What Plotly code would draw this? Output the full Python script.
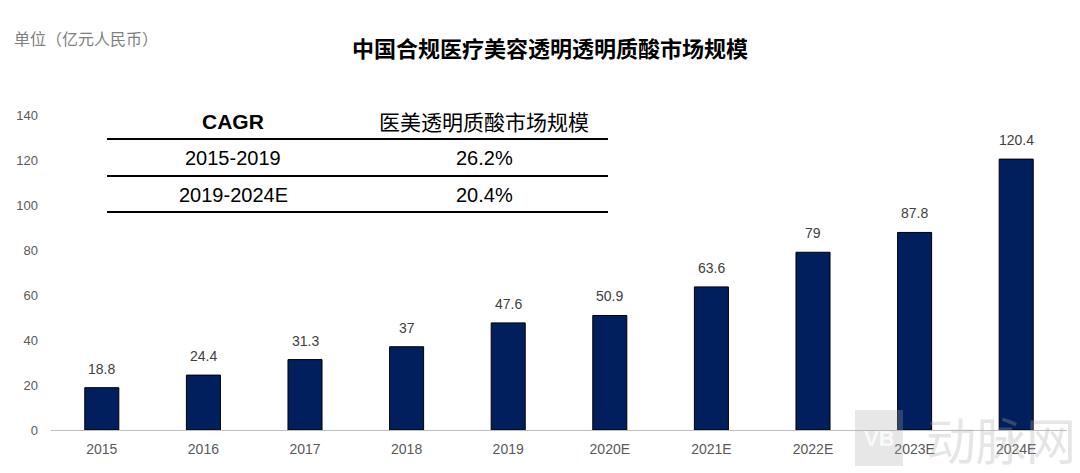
import plotly.graph_objects as go

years = ["2015", "2016", "2017", "2018", "2019", "2020E", "2021E", "2022E", "2023E", "2024E"]
values = [18.8, 24.4, 31.3, 37, 47.6, 50.9, 63.6, 79, 87.8, 120.4]
value_labels = ["18.8", "24.4", "31.3", "37", "47.6", "50.9", "63.6", "79", "87.8", "120.4"]
y_ticks = [0, 20, 40, 60, 80, 100, 120, 140]

table_header = ["CAGR", "医美透明质酸市场规模"]
table_periods = ["2015-2019", "2019-2024E"]
table_cagr = ["26.2%", "20.4%"]

W, H = 1080, 473
ML, MR, MT, MB = 51, 13, 115, 43
PW, PH = W - ML - MR, H - MT - MB

def px(x):
    return (x - ML) / PW

def py(y):
    return (H - MB - y) / PH

fig = go.Figure()
fig.add_trace(go.Bar(
    x=years, y=values,
    marker=dict(color="#001F5C", line=dict(color="#000000", width=1)),
    hoverinfo="x+y",
))

ann = []
shapes = []
# value labels (x given as category serial index)
for i, (yv, t) in enumerate(zip(values, value_labels)):
    ann.append(dict(text=t, x=i, y=yv, xref="x", yref="y", showarrow=False,
                    xanchor="center", yanchor="bottom", yshift=9,
                    font=dict(size=14, color="#404040", family="Liberation Sans, Arial")))
# title and unit
ann.append(dict(text="<b>中国合规医疗美容透明透明质酸市场规模</b>", x=px(550), y=py(47), xref="paper", yref="paper",
                showarrow=False, xanchor="center", yanchor="middle",
                font=dict(size=22, color="#000000", family="Noto Sans CJK SC")))
ann.append(dict(text="单位（亿元人民币）", x=px(12), y=py(38), xref="paper", yref="paper",
                showarrow=False, xanchor="left", yanchor="middle",
                font=dict(size=16, color="#7f7f7f", family="Noto Sans CJK SC")))
# table
col_x = [px(233), px(484)]
ann.append(dict(text="<b>" + table_header[0] + "</b>", x=col_x[0], y=py(121), xref="paper", yref="paper",
                showarrow=False, xanchor="center", yanchor="middle",
                font=dict(size=21, color="#000", family="Liberation Sans, Arial")))
ann.append(dict(text=table_header[1], x=col_x[1], y=py(121), xref="paper", yref="paper",
                showarrow=False, xanchor="center", yanchor="middle",
                font=dict(size=21, color="#000", family="Noto Sans CJK SC")))
row_y = [py(158), py(195)]
for i in range(2):
    ann.append(dict(text=table_periods[i], x=col_x[0], y=row_y[i], xref="paper", yref="paper",
                    showarrow=False, xanchor="center", yanchor="middle",
                    font=dict(size=20, color="#000", family="Liberation Sans, Arial")))
    ann.append(dict(text=table_cagr[i], x=col_x[1], y=row_y[i], xref="paper", yref="paper",
                    showarrow=False, xanchor="center", yanchor="middle",
                    font=dict(size=20, color="#000", family="Liberation Sans, Arial")))
for ly in [139, 176, 212]:
    shapes.append(dict(type="line", xref="paper", yref="paper", x0=px(107), x1=px(608),
                       y0=py(ly), y1=py(ly), line=dict(color="#000", width=2)))
# watermark
ann.append(dict(text="动脉网", x=px(1078), y=py(438), xref="paper", yref="paper",
                showarrow=False, xanchor="right", yanchor="middle",
                font=dict(size=50, color="rgba(170,170,170,0.3)", family="Noto Sans CJK SC")))
shapes.append(dict(type="rect", xref="paper", yref="paper", x0=px(855), x1=px(903), y0=py(466), y1=py(410),
                   fillcolor="rgba(170,170,170,0.28)", line=dict(width=0), layer="above"))
ann.append(dict(text="<b>VB</b>", x=px(879), y=py(438), xref="paper", yref="paper", showarrow=False,
                xanchor="center", yanchor="middle",
                font=dict(size=22, color="rgba(255,255,255,0.8)", family="Liberation Sans")))

fig.update_layout(
    width=W, height=H, margin=dict(l=ML, r=MR, t=MT, b=MB),
    plot_bgcolor="white", paper_bgcolor="white", showlegend=False,
    bargap=0.665, annotations=ann, shapes=shapes,
    xaxis=dict(type="category", showline=True, linecolor="#bfbfbf", linewidth=1, ticks="",
               ticklabelstandoff=6,
               tickfont=dict(size=14, color="#595959", family="Liberation Sans Narrow, Arial Narrow, Liberation Sans")),
    yaxis=dict(range=[0, 140], tickvals=y_ticks, showgrid=False, zeroline=False, showline=False,
               ticks="", ticklabelstandoff=12,
               tickfont=dict(size=13, color="#595959", family="Liberation Sans, Arial")),
)
fig.write_html("out.html", config={"displayModeBar": False},
               post_script="document.body.style.margin='0';document.body.style.padding='0';")
